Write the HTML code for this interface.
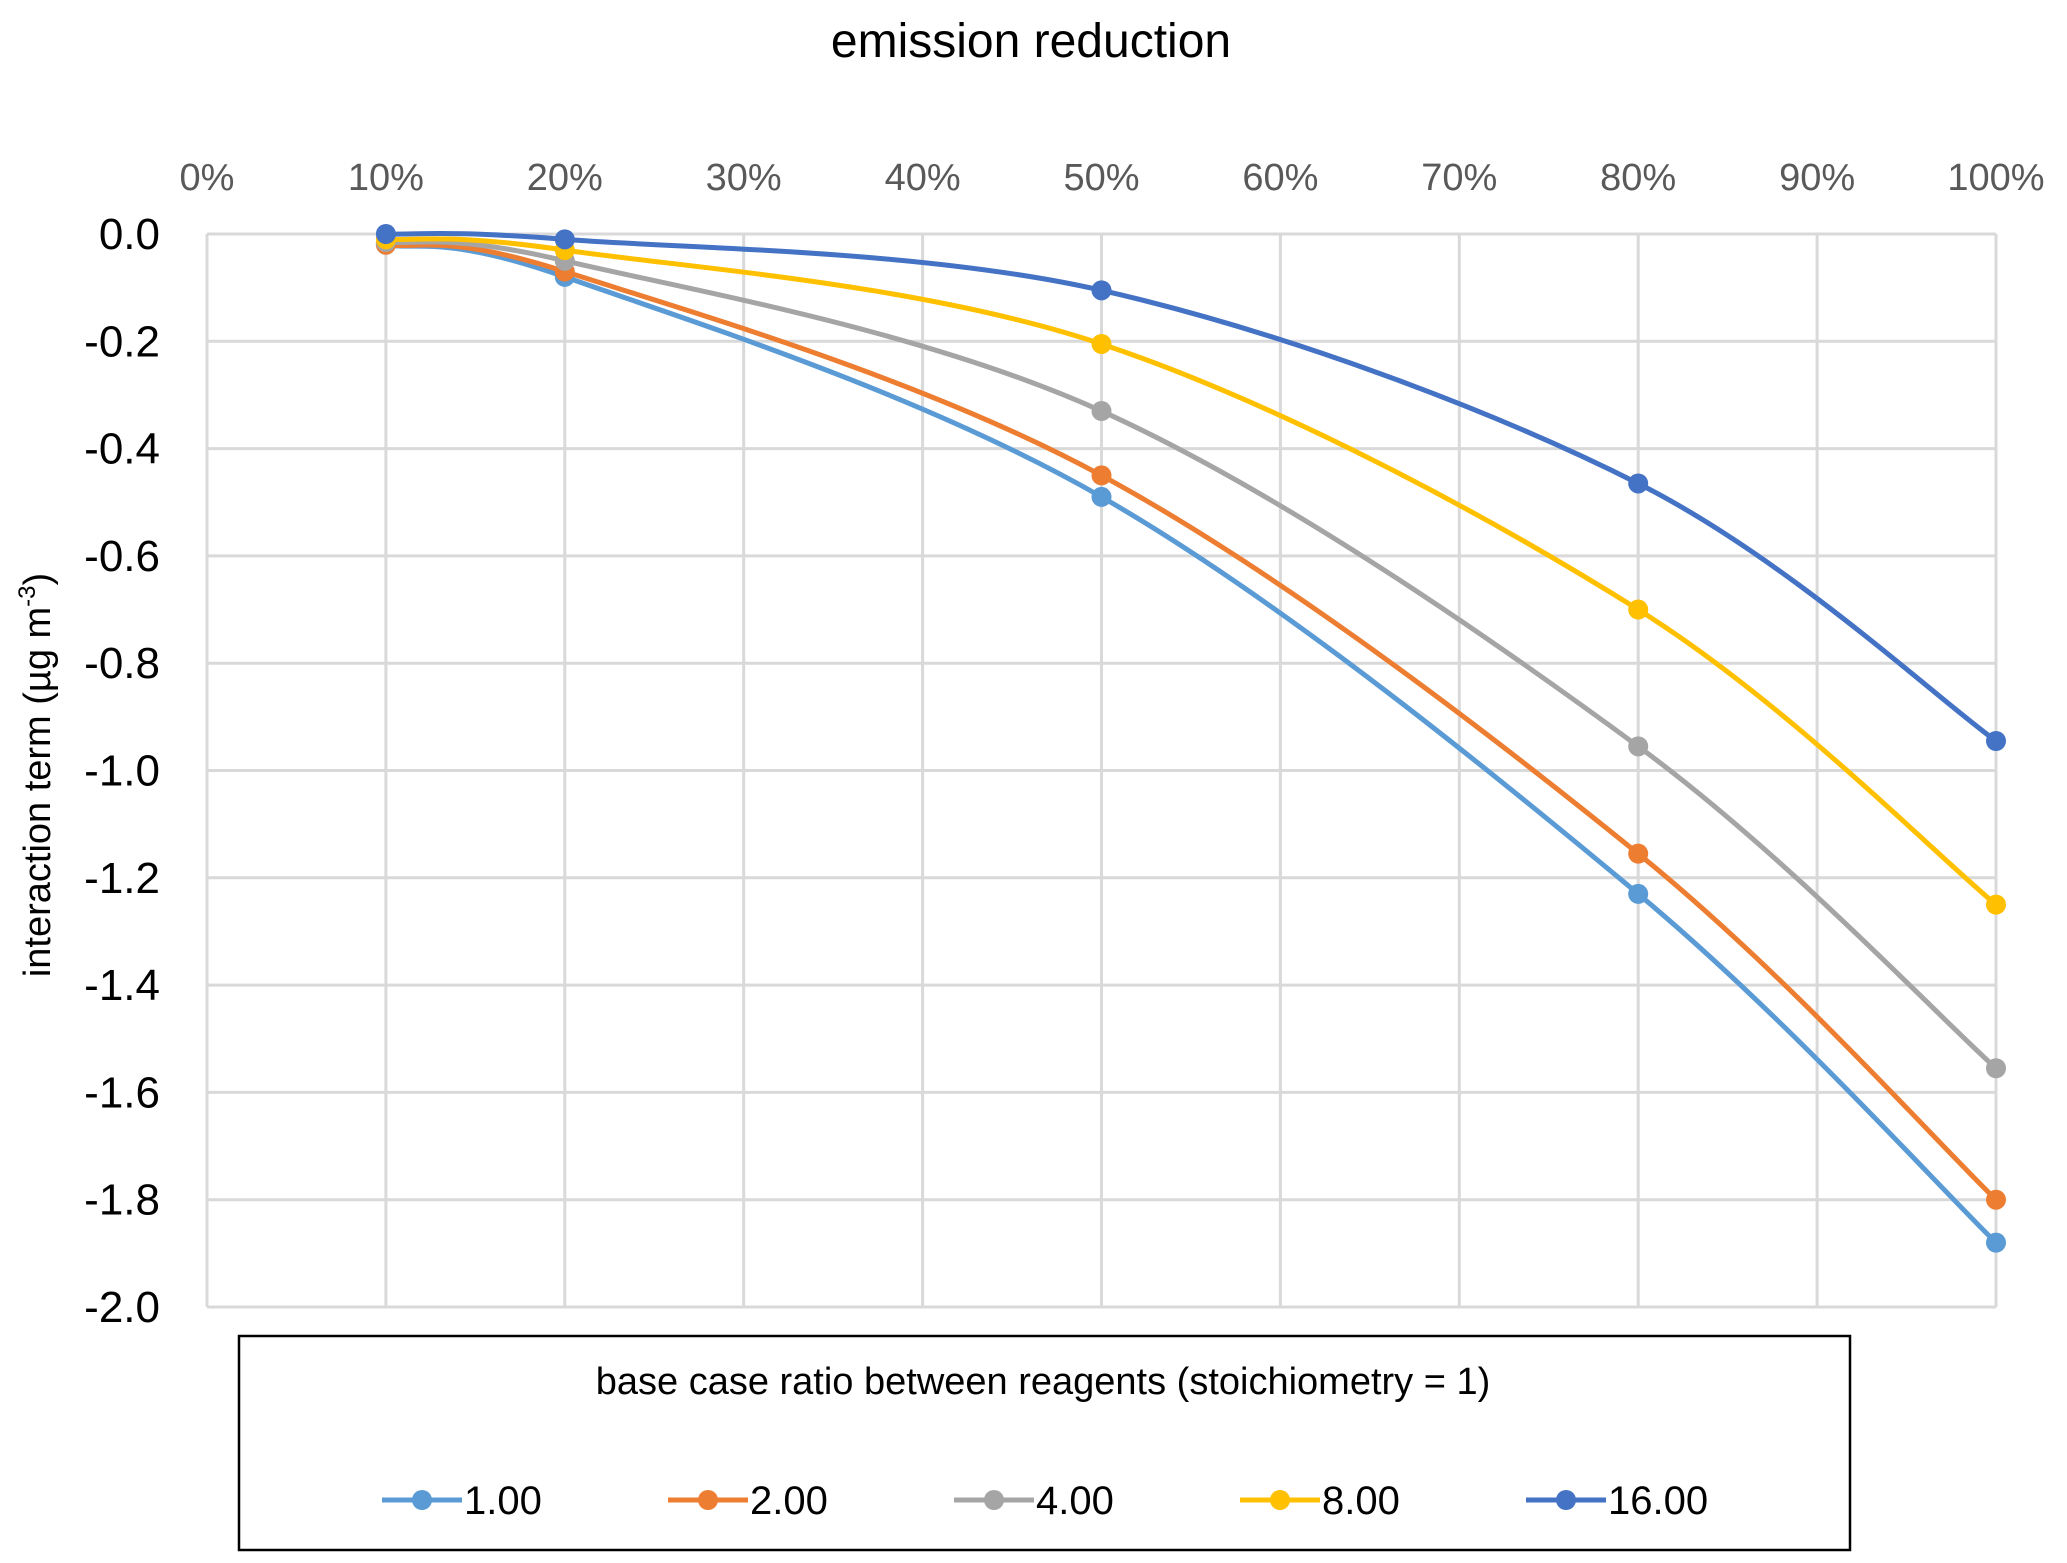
<!DOCTYPE html>
<html><head><meta charset="utf-8"><style>
html,body{margin:0;padding:0;background:#fff;}
svg{display:block;font-family:"Liberation Sans",sans-serif;}
</style></head><body>
<svg id="chart" width="2067" height="1563" viewBox="0 0 2067 1563" xmlns="http://www.w3.org/2000/svg">
<text x="1031" y="57" text-anchor="middle" font-size="48" fill="#000">emission reduction</text>
<g id="grid"></g>
<g id="xticks"></g>
<g id="yticks"></g>
<text transform="translate(50,775) rotate(-90)" text-anchor="middle" font-size="38" fill="#000">interaction term (µg m<tspan font-size="24" dy="-15">-3</tspan><tspan dy="15">)</tspan></text>
<g id="series"></g>
<rect x="239" y="1336" width="1611" height="214" fill="#fff" stroke="#000" stroke-width="2.5"/>
<text x="1043" y="1394" text-anchor="middle" font-size="38" fill="#000">base case ratio between reagents (stoichiometry = 1)</text>
<g id="legend"></g>
</svg>
<script>
const xCats = [10, 20, 50, 80, 100];
const xTicks = [0, 10, 20, 30, 40, 50, 60, 70, 80, 90, 100];
const yTicks = [0, -0.2, -0.4, -0.6, -0.8, -1.0, -1.2, -1.4, -1.6, -1.8, -2.0];
const seriesNames = ["1.00", "2.00", "4.00", "8.00", "16.00"];
const s1 = [-0.02, -0.08, -0.49, -1.23, -1.88];
const s2 = [-0.02, -0.07, -0.45, -1.155, -1.80];
const s4 = [-0.015, -0.05, -0.33, -0.955, -1.555];
const s8 = [-0.01, -0.03, -0.205, -0.70, -1.25];
const s16 = [0.0, -0.01, -0.105, -0.465, -0.945];
const colors = ["#5B9BD5", "#ED7D31", "#A5A5A5", "#FFC000", "#4472C4"];
const allSeries = [s1, s2, s4, s8, s16];

const NS = "http://www.w3.org/2000/svg";
const X0 = 207, X1 = 1996, Y0 = 234, Y1 = 1307;
const xs = v => X0 + (v / 100) * (X1 - X0);
const ys = v => Y0 + (v / -2.0) * (Y1 - Y0);
function mk(tag, attrs, parent) {
  const e = document.createElementNS(NS, tag);
  for (const k in attrs) e.setAttribute(k, attrs[k]);
  parent.appendChild(e);
  return e;
}
const grid = document.getElementById('grid');
xTicks.forEach(t => {
  const l = mk('line', {x1: xs(t), x2: xs(t), y1: Y0, y2: Y1, stroke: '#d9d9d9', 'stroke-width': 3}, grid);
  
  
});
yTicks.forEach(t => {
  const l = mk('line', {x1: X0, x2: X1, y1: ys(t), y2: ys(t), stroke: '#d9d9d9', 'stroke-width': 3}, grid);
  
  
});
const xt = document.getElementById('xticks');
xTicks.forEach(t => {
  const e = mk('text', {x: xs(t), y: 190, 'text-anchor': 'middle', 'font-size': 38, fill: '#595959'}, xt);
  e.textContent = t + '%';
  
  
});
const yt = document.getElementById('yticks');
yTicks.forEach(t => {
  const e = mk('text', {x: 160, y: ys(t) + 15, 'text-anchor': 'end', 'font-size': 44, fill: '#000'}, yt);
  e.textContent = t.toFixed(1);
  
  
});
function smooth(pts) {
  let d = 'M' + pts[0][0] + ',' + pts[0][1];
  const t = 1 / 6;
  for (let i = 0; i < pts.length - 1; i++) {
    const p0 = pts[Math.max(0, i - 1)], p1 = pts[i], p2 = pts[i + 1], p3 = pts[Math.min(pts.length - 1, i + 2)];
    const c1 = [p1[0] + (p2[0] - p0[0]) * t, p1[1] + (p2[1] - p0[1]) * t];
    const c2 = [p2[0] - (p3[0] - p1[0]) * t, p2[1] - (p3[1] - p1[1]) * t];
    d += ' C' + c1 + ' ' + c2 + ' ' + p2;
  }
  return d;
}
const sg = document.getElementById('series');
allSeries.forEach((s, i) => {
  const g = mk('g', {}, sg);
  
  
  const pts = s.map((v, j) => [xs(xCats[j]), ys(v)]);
  const p = mk('path', {d: smooth(pts), fill: 'none', stroke: colors[i], 'stroke-width': 5, 'stroke-linecap': 'round'}, g);
  
  
  pts.forEach(pt => {
    const c = mk('circle', {cx: pt[0], cy: pt[1], r: 10, fill: colors[i]}, g);
    
    
  });
});
const lg = document.getElementById('legend');
const legX = [382, 668, 954, 1240, 1526];
seriesNames.forEach((n, i) => {
  const g = mk('g', {}, lg);
  
  
  const x = legX[i];
  mk('line', {x1: x, x2: x + 80, y1: 1500, y2: 1500, stroke: colors[i], 'stroke-width': 5}, g);
  mk('circle', {cx: x + 40, cy: 1500, r: 10, fill: colors[i]}, g);
  const t = mk('text', {x: x + 82, y: 1514, 'font-size': 40, fill: '#000'}, g);
  t.textContent = n;
});
</script>
</body></html>
